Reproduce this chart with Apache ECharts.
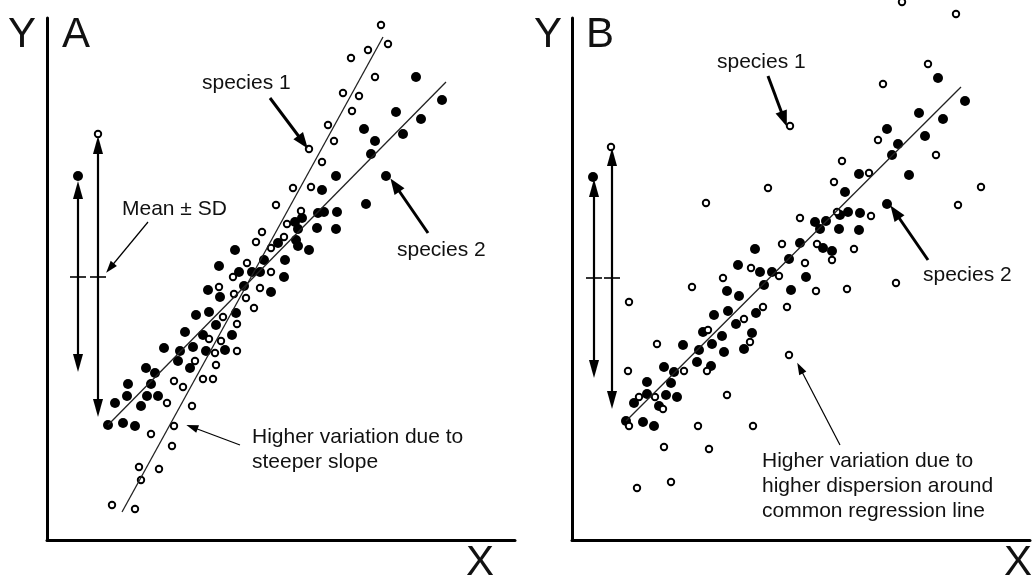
<!DOCTYPE html>
<html>
<head>
<meta charset="utf-8">
<script src="https://cdn.jsdelivr.net/npm/echarts@6/dist/echarts.min.js"></script>
<style>
  html, body { margin: 0; padding: 0; background: #fff; }
  #chart { width: 1036px; height: 580px; }
</style>
</head>
<body>
<div id="chart"></div>
<script>
// panel A: species 1 (open) is steeper than species 2 (filled)
const aSpecies1 = [
  [334,515],[341,496],[321,490],[304,482],[328,463],[296,447],[312,444],[305,429],[281,415],[287,399],
  [262,391],[275,378],[246,352],[264,353],[229,335],[215,308],[209,298],[224,292],[200,277],[186,263],
  [224,268],[172,253],[213,252],[187,246],[199,242],[207,232],[176,223],[190,216],[162,201],[174,199],
  [190,189],[168,187],[254,329],[240,316],[237,303],[169,175],[148,179],[156,161],[166,161],[127,159],
  [136,153],[120,137],[145,134],[127,114],[104,106],[125,94],[92,73],[112,71],[94,60],[65,35],[88,31],
  [51,406]
];
const aSpecies2 = [
  [369,463],[395,440],[349,428],[374,421],[317,411],[328,399],[356,406],[324,386],[289,364],[339,364],
  [275,350],[188,290],[172,274],[192,268],[205,268],[213,268],[217,280],[231,297],[161,250],[173,243],
  [197,254],[224,248],[149,225],[162,228],[169,215],[189,227],[138,208],[156,205],[185,205],[117,192],
  [133,189],[146,193],[159,189],[178,190],[319,336],[271,327],[277,328],[290,328],[248,318],[255,322],
  [251,311],[270,312],[289,311],[249,300],[251,294],[262,290],[238,280],[237,263],[131,179],[143,172],
  [99,172],[108,167],[81,156],[104,156],[68,137],[80,144],[100,144],[111,144],[94,134],[61,115],
  [76,117],[88,114],[31,364]
];
const aFit1 = [[75,28],[336,503]];
const aFit2 = [[61,115],[399,458]];

// panel B: same slope, species 1 more dispersed
const bSpecies1 = [
  [39,393],[218,414],[330,538],[384,526],[356,476],[311,456],[306,400],[270,379],[364,385],[297,367],
  [134,337],[196,352],[210,296],[179,272],[207,264],[151,262],[120,253],[57,238],[191,233],[215,233],
  [172,221],[136,210],[178,198],[85,196],[262,358],[409,353],[386,335],[228,322],[265,328],[299,324],
  [245,296],[282,291],[233,277],[260,280],[244,249],[275,251],[324,257],[217,185],[56,169],[112,169],
  [135,169],[67,143],[83,143],[91,131],[155,145],[57,114],[126,114],[181,114],[92,93],[137,91],
  [99,58],[65,52]
];
const bSpecies2 = [
  [366,462],[393,439],[347,427],[371,421],[315,411],[326,396],[353,404],[320,385],[287,366],[337,365],
  [21,363],[183,291],[166,275],[188,268],[200,268],[217,281],[192,255],[155,249],[167,244],[219,250],
  [142,225],[156,229],[184,227],[164,216],[131,208],[150,204],[180,207],[111,195],[140,196],[273,348],
  [315,336],[276,328],[288,327],[268,325],[243,318],[254,319],[248,311],[267,311],[287,310],[228,297],
  [251,292],[260,289],[234,263],[127,190],[152,188],[172,191],[125,178],[139,174],[92,173],[102,168],
  [75,158],[99,157],[75,146],[94,145],[105,143],[62,137],[87,134],[54,119],[71,118],[82,114]
];
const bFit = [[54,119],[389,453]];

// mean ± SD bars: [x, low, high]
const aSdBars = [[31,177,350],[51,132,395]];
const bSdBars = [[22,171,352],[40,140,383]];
const aMean = 263;
const bMean = 262;

const FONT = '"Liberation Sans", Arial, sans-serif';
const chart = echarts.init(document.getElementById('chart'));

const openStyle = { color: '#fff', borderColor: '#000', borderWidth: 1.9, opacity: 1 };
const fillStyle = { color: '#000', opacity: 1 };

function axisPair(i) {
  return {
    x: {
      type: 'value', gridIndex: i, min: 0, max: i === 0 ? 468 : 458,
      axisLine: { show: true, onZero: false, lineStyle: { color: '#000', width: 3 } },
      axisTick: { show: false }, axisLabel: { show: false }, splitLine: { show: false }
    },
    y: {
      type: 'value', gridIndex: i, min: 0, max: 522,
      axisLine: { show: true, onZero: false, lineStyle: { color: '#000', width: 3 } },
      axisTick: { show: false }, axisLabel: { show: false }, splitLine: { show: false }
    }
  };
}
const axA = axisPair(0), axB = axisPair(1);

function arrow(from, to, thick) {
  return [
    { coord: from, symbol: 'none' },
    {
      coord: to, symbol: 'triangle',
      symbolSize: thick ? [12, 16] : [8, 12],
      lineStyle: { width: thick ? 3 : 1.2, color: '#000', type: 'solid' }
    }
  ];
}
function sdMarks(bars, mean) {
  const out = [];
  bars.forEach(([x, lo, hi]) => {
    out.push([
      { coord: [x, lo], symbol: 'triangle', symbolSize: [10, 18] },
      { coord: [x, hi], symbol: 'triangle', symbolSize: [10, 18], lineStyle: { width: 2.2, color: '#000', type: 'solid' } }
    ]);
    out.push([
      { coord: [x - 8, mean], symbol: 'none' },
      { coord: [x + 8, mean], symbol: 'none', lineStyle: { width: 1.6, color: '#000', type: 'solid' } }
    ]);
  });
  return out;
}

function fitSeries(data, gi, marks) {
  return {
    type: 'line', xAxisIndex: gi, yAxisIndex: gi, data: data, z: 5,
    showSymbol: false, silent: true,
    lineStyle: { color: '#222', width: 1.3 },
    markLine: {
      silent: true, animation: false, label: { show: false },
      lineStyle: { color: '#000', type: 'solid' },
      data: marks
    }
  };
}
function pts(data, gi, open) {
  return {
    type: 'scatter', xAxisIndex: gi, yAxisIndex: gi, data: data, clip: false,
    symbol: 'circle', symbolSize: open ? 6.5 : 10, z: open ? 4 : 3,
    itemStyle: open ? openStyle : fillStyle, silent: true
  };
}

function txt(x, y, text, size) {
  return {
    type: 'text', x: x, y: y, silent: true,
    style: { text: text, fontSize: size, fontFamily: FONT, fill: '#111', verticalAlign: 'middle', lineHeight: 25 }
  };
}

const option = {
  animation: false,
  backgroundColor: '#fff',
  grid: [
    { left: 47, top: 18, width: 468, height: 522 },
    { left: 572, top: 18, width: 458, height: 522 }
  ],
  xAxis: [axA.x, axB.x],
  yAxis: [axA.y, axB.y],
  series: [
    pts(aSpecies2, 0, false),
    pts(aSpecies1, 0, true),
    fitSeries(aFit1, 0, [
      arrow([223, 442], [256, 398], true),
      arrow([101, 318], [63, 272], false),
      arrow([381, 307], [348, 355], true),
      arrow([193, 95], [145, 113], false)
    ].concat(sdMarks(aSdBars, aMean))),
    fitSeries(aFit2, 0, []),
    pts(bSpecies2, 1, false),
    pts(bSpecies1, 1, true),
    fitSeries(bFit, 1, [
      arrow([196, 464], [212, 421], true),
      arrow([356, 280], [323, 328], true),
      arrow([268, 95], [228, 172], false)
    ].concat(sdMarks(bSdBars, bMean)))
  ],
  graphic: [
    txt(8, 35, 'Y', 42),
    txt(62, 35, 'A', 42),
    txt(466, 563, 'X', 42),
    txt(534, 35, 'Y', 42),
    txt(586, 35, 'B', 42),
    txt(1004, 563, 'X', 42),
    txt(202, 83, 'species 1', 21),
    txt(122, 209, 'Mean ± SD', 21),
    txt(397, 250, 'species 2', 21),
    txt(252, 437, 'Higher variation due to', 21),
    txt(252, 462, 'steeper slope', 21),
    txt(717, 62, 'species 1', 21),
    txt(923, 275, 'species 2', 21),
    txt(762, 461, 'Higher variation due to', 21),
    txt(762, 486, 'higher dispersion around', 21),
    txt(762, 511, 'common regression line', 21)
  ]
};

chart.setOption(option);
</script>
</body>
</html>
